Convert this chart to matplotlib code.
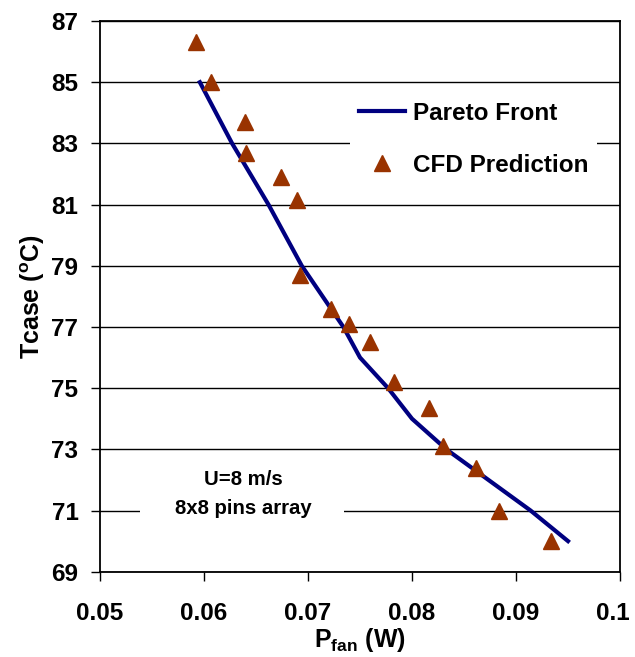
import matplotlib
matplotlib.use("Agg")
import matplotlib.pyplot as plt
from matplotlib.patches import Rectangle
from matplotlib.transforms import ScaledTranslation

plt.rcParams['font.family'] = ['Liberation Sans', 'DejaVu Sans']
plt.rcParams['font.weight'] = 'bold'
plt.rcParams['mathtext.fontset'] = 'custom'
plt.rcParams['mathtext.rm'] = 'Liberation Sans:bold'
plt.rcParams['mathtext.it'] = 'Liberation Sans:bold'
plt.rcParams['mathtext.bf'] = 'Liberation Sans:bold'

# Pareto front (fan power in W, case temperature in deg C)
pareto_pfan = [0.0596, 0.0627, 0.0662, 0.0694, 0.0734, 0.0750, 0.0777, 0.0800, 0.0833, 0.0914, 0.0950]
pareto_tcase = [85.0, 83.0, 81.0, 79.0, 77.0, 76.0, 75.0, 74.0, 73.0, 71.0, 70.0]

# CFD predictions
cfd_pfan = [0.0592, 0.0607, 0.0639, 0.0640, 0.0674, 0.0689, 0.0692, 0.0722,
            0.0739, 0.0760, 0.0783, 0.0816, 0.0830, 0.0862, 0.0884, 0.0934]
cfd_tcase = [86.3, 85.0, 83.7, 82.7, 81.9, 81.15, 78.7, 77.6,
             77.1, 76.5, 75.2, 74.35, 73.1, 72.4, 71.0, 70.0]

x_ticks = [0.05, 0.06, 0.07, 0.08, 0.09, 0.1]
x_tick_labels = ['0.05', '0.06', '0.07', '0.08', '0.09', '0.1']
y_ticks = [69, 71, 73, 75, 77, 79, 81, 83, 85, 87]

fig = plt.figure(figsize=(6.35, 6.57), dpi=100)
ax = fig.add_axes([0.1575, 0.1298, 0.8189, 0.8382])

ax.set_xlim(0.05, 0.1)
ax.set_ylim(69, 87)
ax.set_xticks(x_ticks)
ax.set_xticklabels(x_tick_labels)
ax.set_yticks(y_ticks)
ax.tick_params(axis='both', direction='out', length=6.5, width=1.0,
               labelsize=17.5, color='black')
ax.tick_params(axis='x', pad=15)
ax.tick_params(axis='y', pad=9)
for lab in ax.get_xticklabels() + ax.get_yticklabels():
    lab.set_fontweight('bold')

# keep the last x tick label inside the figure edge
last = ax.get_xticklabels()[-1]
last.set_transform(last.get_transform() + ScaledTranslation(-5 / 72, 0, fig.dpi_scale_trans))

ax.set_axisbelow(True)
ax.yaxis.grid(True, color='black', linewidth=1.0)
for sp in ax.spines.values():
    sp.set_color('black')
    sp.set_linewidth(1.3)

line, = ax.plot(pareto_pfan, pareto_tcase, color='#000080', linewidth=3.0,
                label='Pareto Front', zorder=3)
pts, = ax.plot(cfd_pfan, cfd_tcase, linestyle='none', marker='^',
               markersize=12, color='#993300', label='CFD Prediction', zorder=4)

# white patch behind the annotation
ax.add_patch(Rectangle((0.0769, 0.09), 0.392, 0.04, transform=ax.transAxes,
                       facecolor='white', edgecolor='none', zorder=1.5))
ax.text(0.06375, 72.03, 'U=8 m/s', ha='center', va='center', fontsize=14.7,
        fontweight='bold', zorder=5)
ax.text(0.06375, 71.08, '8x8 pins array', ha='center', va='center', fontsize=14.7,
        fontweight='bold', zorder=5)

leg = ax.legend(handles=[line, pts], loc='upper left', bbox_to_anchor=(0.481, 0.869),
                borderaxespad=0, fontsize=17.5, frameon=True, fancybox=False,
                handlelength=1.9, handletextpad=0.33, labelspacing=1.2,
                borderpad=0.35, numpoints=1)
leg.get_frame().set_facecolor('white')
leg.get_frame().set_edgecolor('none')
leg.get_frame().set_alpha(1.0)
for t in leg.get_texts():
    t.set_fontweight('bold')

ax.set_xlabel(r'P$_{\mathregular{fan}}$ (W)', fontsize=18, fontweight='bold', labelpad=1)
ax.set_ylabel(r'Tcase ($^{\mathregular{o}}$C)', fontsize=18, fontweight='bold', labelpad=3)

fig.savefig('out.png', dpi=100)
